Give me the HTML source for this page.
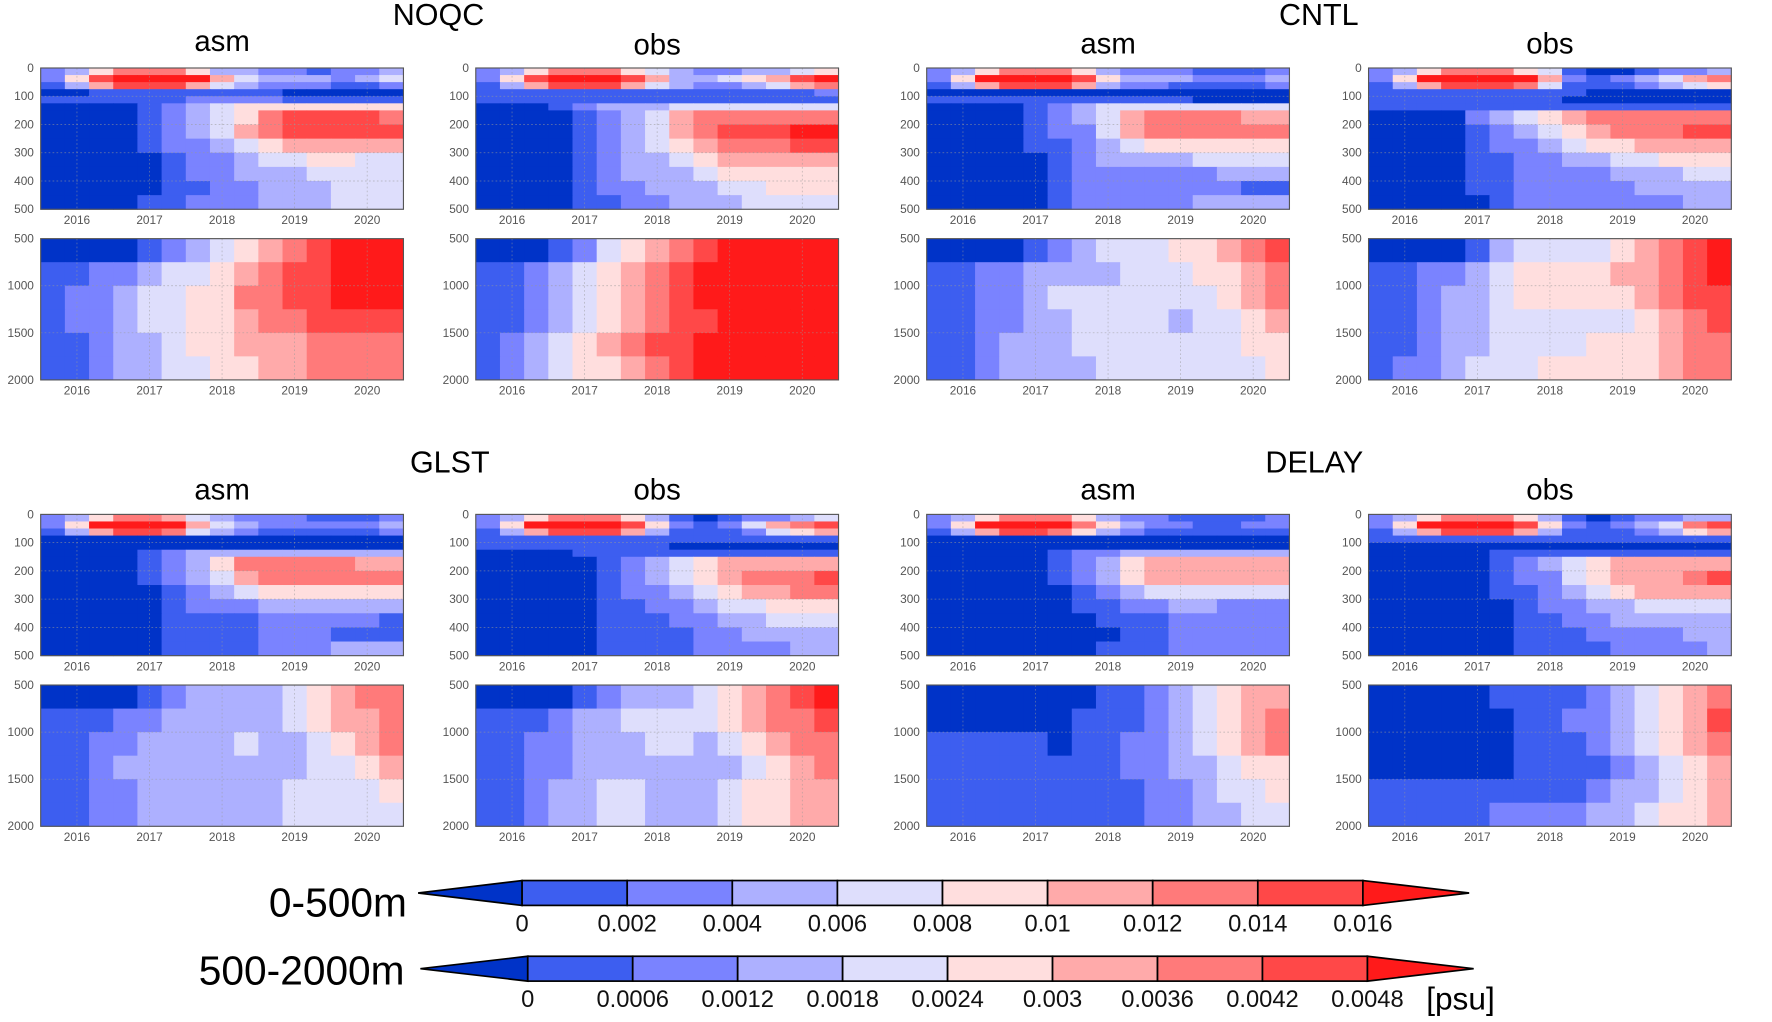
<!DOCTYPE html>
<html><head><meta charset="utf-8">
<style>
html,body{margin:0;padding:0;background:#fff;}
svg{display:block;font-family:"Liberation Sans","DejaVu Sans",sans-serif;}
</style></head>
<body>
<svg id="fig" width="1772" height="1022" viewBox="0 0 1568 904" xmlns="http://www.w3.org/2000/svg">
<rect width="1568" height="904" fill="#fff"/>
</svg>
<script>
// ---- data ----
const levelColors = ["#0033c8","#3d5ef0","#7a83ff","#adb0ff","#dedefc","#ffdede","#ffaaaa","#ff7a7a","#ff4848","#ff1a1a"];
const yearTicks = [2016,2017,2018,2019,2020];
const timeStart = 2015.5, timeEnd = 2020.5;
const topDepthEdges = [0,25,50,75,100,125,150,200,250,300,350,400,450,500];
const botDepthEdges = [500,750,1000,1250,1500,1750,2000];
const topDepthTicks = [0,100,200,300,400,500];
const botDepthTicks = [500,1000,1500,2000];
const cb1Labels = ["0","0.002","0.004","0.006","0.008","0.01","0.012","0.014","0.016"];
const cb2Labels = ["0","0.0006","0.0012","0.0018","0.0024","0.003","0.0036","0.0042","0.0048"];

const noqcAsmTop = [
[2,3,5,7,7,7,5,3,3,2,2,1,2,2,3],
[2,5,8,9,9,9,9,6,4,3,3,3,2,3,4],
[1,3,6,8,8,8,6,4,3,2,2,2,1,1,2],
[0,0,1,1,1,1,1,1,1,1,0,0,0,0,0],
[1,1,1,1,1,1,2,2,2,2,1,1,1,1,1],
[0,0,0,0,1,2,3,4,5,5,5,5,5,5,5],
[0,0,0,0,1,2,3,4,5,7,8,8,8,8,7],
[0,0,0,0,1,2,3,4,6,7,8,8,8,8,8],
[0,0,0,0,1,2,2,3,4,5,6,6,6,6,6],
[0,0,0,0,0,1,2,2,3,4,4,5,5,4,4],
[0,0,0,0,0,1,2,2,3,3,3,4,4,4,4],
[0,0,0,0,0,1,1,2,2,3,3,3,4,4,4],
[0,0,0,0,1,1,2,2,2,3,3,3,4,4,4]];
const noqcAsmBot = [
[0,0,0,0,1,2,3,4,5,6,7,8,9,9,9],
[1,1,2,2,3,4,4,5,6,7,8,8,9,9,9],
[1,2,2,3,4,4,5,5,7,7,8,8,9,9,9],
[1,2,2,3,4,4,5,5,6,7,7,8,8,8,8],
[1,1,2,3,3,4,5,5,6,6,6,7,7,7,7],
[1,1,2,3,3,4,4,5,5,6,6,7,7,7,7]];
const noqcObsTop = [
[2,3,5,7,7,7,5,4,3,2,2,3,3,4,5],
[2,5,8,9,9,9,8,6,3,3,4,5,6,8,9],
[1,3,6,8,8,8,6,4,3,2,2,3,4,6,7],
[1,1,1,1,1,1,1,1,1,1,1,1,1,1,2],
[1,1,1,1,1,1,1,1,1,1,1,1,1,1,1],
[0,0,0,1,2,3,3,3,4,4,4,4,4,4,4],
[0,0,0,0,1,2,3,4,6,7,7,7,7,7,7],
[0,0,0,0,1,2,3,4,6,7,8,8,8,9,9],
[0,0,0,0,1,2,3,4,5,6,7,7,7,8,8],
[0,0,0,0,1,2,3,3,4,5,6,6,6,6,6],
[0,0,0,0,1,2,3,3,3,4,5,5,5,5,5],
[0,0,0,0,1,2,2,3,3,3,4,4,5,5,5],
[0,0,0,0,1,1,2,2,3,3,3,4,4,4,4]];
const noqcObsBot = [
[0,0,0,1,2,4,5,6,7,8,9,9,9,9,9],
[1,1,2,3,4,5,6,7,8,9,9,9,9,9,9],
[1,1,2,3,4,5,6,7,8,9,9,9,9,9,9],
[1,1,2,3,4,5,6,7,8,8,9,9,9,9,9],
[1,2,3,4,5,6,7,8,8,9,9,9,9,9,9],
[1,2,3,4,5,5,6,7,8,9,9,9,9,9,9]];
const cntlAsmTop = [
[2,3,5,7,7,7,5,3,2,2,2,1,1,1,2],
[2,5,9,9,9,9,8,5,3,3,3,2,2,2,3],
[1,3,6,8,8,8,6,3,2,2,1,1,1,1,2],
[0,0,0,0,0,0,0,0,0,0,0,0,0,0,0],
[1,1,1,1,1,1,1,1,1,1,1,0,0,0,0],
[0,0,0,0,1,2,3,4,4,4,4,4,4,4,4],
[0,0,0,0,1,2,3,4,6,7,7,7,7,6,6],
[0,0,0,0,1,2,2,4,6,7,7,7,7,7,7],
[0,0,0,0,1,1,2,3,4,5,5,5,5,5,5],
[0,0,0,0,0,1,2,3,3,3,3,4,4,4,4],
[0,0,0,0,0,1,2,2,2,2,2,2,3,3,3],
[0,0,0,0,0,1,2,2,2,2,2,2,2,1,1],
[0,0,0,0,0,1,2,2,2,2,2,3,3,3,3]];
const cntlAsmBot = [
[0,0,0,0,1,2,3,4,4,4,5,5,6,7,8],
[1,1,2,2,3,3,3,3,4,4,4,5,5,6,7],
[1,1,2,2,3,4,4,4,4,4,4,4,5,6,7],
[1,1,2,2,3,3,4,4,4,4,3,4,4,5,6],
[1,1,2,3,3,3,4,4,4,4,4,4,4,5,5],
[1,1,2,3,3,3,3,4,4,4,4,4,4,4,5]];
const cntlObsTop = [
[2,3,5,7,7,7,5,4,1,0,0,1,2,2,3],
[2,5,9,9,9,9,9,6,2,1,2,3,4,6,7],
[1,3,6,8,8,8,7,4,1,1,1,2,3,4,5],
[1,1,1,1,1,1,1,1,1,0,0,0,0,0,0],
[1,1,1,1,1,1,1,1,0,0,0,0,0,0,0],
[1,1,1,1,1,1,1,1,1,1,1,1,1,1,1],
[0,0,0,0,2,3,4,5,6,7,7,7,7,7,7],
[0,0,0,0,1,2,3,4,5,6,7,7,7,8,8],
[0,0,0,0,1,2,2,3,4,5,5,6,6,6,6],
[0,0,0,0,1,1,2,2,3,3,4,4,5,5,5],
[0,0,0,0,1,1,2,2,2,2,3,3,3,4,4],
[0,0,0,0,1,1,2,2,2,2,2,3,3,3,3],
[0,0,0,0,0,1,2,2,2,2,2,2,2,3,3]];
const cntlObsBot = [
[0,0,0,0,1,3,4,4,4,4,5,6,7,8,9],
[1,1,2,2,3,4,5,5,5,5,6,6,7,8,9],
[1,1,2,3,3,4,5,5,5,5,5,6,7,8,8],
[1,1,2,3,3,4,4,4,4,4,4,5,6,7,8],
[1,1,2,3,3,4,4,4,4,5,5,5,6,7,7],
[1,2,2,3,4,4,4,5,5,5,5,5,6,7,7]];
const glstAsmTop = [
[2,3,5,7,7,6,4,3,2,2,2,1,1,1,2],
[2,5,9,9,9,9,6,4,3,2,2,2,2,2,3],
[1,3,6,8,8,7,4,3,2,1,1,1,1,1,2],
[0,0,0,0,0,0,0,0,0,0,0,0,0,0,0],
[0,0,0,0,0,0,0,0,0,0,0,0,0,0,0],
[0,0,0,0,1,2,3,3,3,3,3,3,3,3,3],
[0,0,0,0,1,2,3,5,7,7,7,7,7,6,6],
[0,0,0,0,1,2,3,4,6,7,7,7,7,7,7],
[0,0,0,0,0,1,2,3,4,5,5,5,5,5,5],
[0,0,0,0,0,1,2,2,2,3,3,3,3,3,3],
[0,0,0,0,0,1,1,1,1,2,2,2,2,2,1],
[0,0,0,0,0,1,1,1,1,2,2,2,1,1,1],
[0,0,0,0,0,1,1,1,1,2,2,2,3,3,3]];
const glstAsmBot = [
[0,0,0,0,1,2,3,3,3,3,4,5,6,7,7],
[1,1,1,2,2,3,3,3,3,3,4,5,6,6,7],
[1,1,2,2,3,3,3,3,4,3,3,4,5,6,7],
[1,1,2,3,3,3,3,3,3,3,3,4,4,5,6],
[1,1,2,2,3,3,3,3,3,3,4,4,4,4,5],
[1,1,2,2,3,3,3,3,3,3,4,4,4,4,4]];
const glstObsTop = [
[2,3,5,7,7,7,5,3,1,0,1,2,2,3,4],
[2,5,9,9,9,9,8,5,2,1,2,4,6,7,8],
[1,3,6,8,8,8,6,3,1,1,1,2,4,5,6],
[1,1,1,1,1,1,1,1,1,1,1,1,1,1,1],
[1,1,1,1,1,1,1,1,0,0,0,0,0,0,0],
[0,0,0,0,1,1,1,1,1,1,1,1,1,1,1],
[0,0,0,0,0,1,2,3,4,5,6,6,6,6,6],
[0,0,0,0,0,1,2,3,4,5,6,7,7,7,8],
[0,0,0,0,0,1,2,2,3,4,5,6,6,7,7],
[0,0,0,0,0,1,1,2,2,3,4,4,5,5,5],
[0,0,0,0,0,1,1,1,2,2,3,3,4,4,4],
[0,0,0,0,0,1,1,1,1,2,2,3,3,3,3],
[0,0,0,0,0,1,1,1,1,2,2,2,2,3,3]];
const glstObsBot = [
[0,0,0,0,1,2,3,3,3,4,5,6,7,8,9],
[1,1,1,2,3,3,4,4,4,4,5,6,7,7,8],
[1,1,2,2,3,3,3,4,4,3,4,5,6,7,7],
[1,1,2,2,3,3,3,3,3,3,3,4,5,6,7],
[1,1,2,3,3,4,4,3,3,3,4,5,5,6,6],
[1,1,2,3,3,4,4,3,3,3,4,5,5,6,6]];
const delayAsmTop = [
[2,3,5,7,7,7,5,3,2,2,1,1,1,1,2],
[2,5,9,9,9,9,7,5,3,2,2,1,1,2,2],
[1,3,6,8,8,7,5,3,2,1,1,1,1,1,1],
[0,0,0,0,0,0,0,0,0,0,0,0,0,0,0],
[0,0,0,0,0,0,0,0,0,0,0,0,0,0,0],
[0,0,0,0,0,1,2,2,3,3,3,3,3,3,3],
[0,0,0,0,0,1,2,3,5,6,6,6,6,6,6],
[0,0,0,0,0,1,2,3,5,6,6,6,6,6,6],
[0,0,0,0,0,0,1,2,3,4,4,4,4,4,4],
[0,0,0,0,0,0,1,1,2,2,3,3,2,2,2],
[0,0,0,0,0,0,0,1,1,1,2,2,2,2,2],
[0,0,0,0,0,0,0,0,1,1,2,2,2,2,2],
[0,0,0,0,0,0,0,1,1,1,2,2,2,2,2]];
const delayAsmBot = [
[0,0,0,0,0,0,0,1,1,2,3,4,5,6,6],
[0,0,0,0,0,0,1,1,1,2,3,4,5,6,7],
[1,1,1,1,1,0,1,1,2,2,3,4,5,6,7],
[1,1,1,1,1,1,1,1,2,2,3,3,4,5,5],
[1,1,1,1,1,1,1,1,1,2,2,3,4,4,5],
[1,1,1,1,1,1,1,1,1,2,2,3,3,4,4]];
const delayObsTop = [
[2,3,5,7,7,7,5,3,1,0,1,2,2,3,3],
[2,5,9,9,9,9,8,5,2,1,2,3,4,7,8],
[1,3,6,8,8,8,6,3,1,1,1,2,3,5,6],
[1,1,1,1,1,1,1,1,1,1,1,1,1,1,1],
[0,0,0,0,0,0,0,0,0,0,0,0,0,0,0],
[0,0,0,0,0,1,1,1,1,1,1,1,1,1,1],
[0,0,0,0,0,1,2,3,4,5,6,6,6,6,6],
[0,0,0,0,0,1,2,2,4,5,6,6,6,7,8],
[0,0,0,0,0,1,1,2,3,4,5,6,6,6,6],
[0,0,0,0,0,0,1,2,2,3,3,4,4,4,4],
[0,0,0,0,0,0,1,1,2,2,3,3,3,3,3],
[0,0,0,0,0,0,1,1,1,2,2,2,2,3,3],
[0,0,0,0,0,0,1,1,1,1,2,2,2,2,3]];
const delayObsBot = [
[0,0,0,0,0,1,1,1,1,2,3,4,5,6,7],
[0,0,0,0,0,0,1,1,2,2,3,4,5,6,8],
[0,0,0,0,0,0,1,1,1,2,3,4,5,6,7],
[0,0,0,0,0,0,1,1,1,1,2,3,4,5,6],
[1,1,1,1,1,1,1,1,1,2,3,3,4,5,6],
[1,1,1,1,1,2,2,2,2,3,3,4,5,5,6]];

// ---- layout ----
const NS = "http://www.w3.org/2000/svg";
const svg = document.getElementById('fig');
function mk(tag, attrs, parent){
  const e = document.createElementNS(NS, tag);
  for (const k in attrs) e.setAttribute(k, attrs[k]);
  (parent||svg).appendChild(e);
  return e;
}
const PW = 321, PH = 125;
const panelDefs = [
  {name:'noqc-asm', x:36, ty:60, by:211, top:noqcAsmTop, bot:noqcAsmBot, title:'asm', tBase:45},
  {name:'noqc-obs', x:421, ty:60, by:211, top:noqcObsTop, bot:noqcObsBot, title:'obs', tBase:48},
  {name:'cntl-asm', x:820, ty:60, by:211, top:cntlAsmTop, bot:cntlAsmBot, title:'asm', tBase:47},
  {name:'cntl-obs', x:1211, ty:60, by:211, top:cntlObsTop, bot:cntlObsBot, title:'obs', tBase:47},
  {name:'glst-asm', x:36, ty:455, by:606, top:glstAsmTop, bot:glstAsmBot, title:'asm', tBase:442},
  {name:'glst-obs', x:421, ty:455, by:606, top:glstObsTop, bot:glstObsBot, title:'obs', tBase:442},
  {name:'delay-asm', x:820, ty:455, by:606, top:delayAsmTop, bot:delayAsmBot, title:'asm', tBase:442},
  {name:'delay-obs', x:1211, ty:455, by:606, top:delayObsTop, bot:delayObsBot, title:'obs', tBase:442}
];
function drawPanel(px, py, grid, edges, ticks, name){
  const g = mk('g', {});
  
  
  const xs = t => px + (t - timeStart) / (timeEnd - timeStart) * PW;
  const d0 = edges[0], d1 = edges[edges.length-1];
  const ys = d => py + (d - d0) / (d1 - d0) * PH;
  const nc = grid[0].length, dt = (timeEnd - timeStart) / nc;
  for (let r = 0; r < grid.length; r++){
    for (let c = 0; c < nc; c++){
      const x0 = xs(timeStart + c*dt), x1 = xs(timeStart + (c+1)*dt);
      const y0 = ys(edges[r]), y1 = ys(edges[r+1]);
      const cell = mk('rect', {x:x0, y:y0, width:x1-x0+0.4, height:y1-y0+0.4, fill:levelColors[grid[r][c]]}, g);
      
      
    }
  }
  yearTicks.forEach(yr => {
    mk('line', {x1:xs(yr), x2:xs(yr), y1:py, y2:py+PH, stroke:'#999', 'stroke-width':0.6, 'stroke-dasharray':'1.5,2', opacity:0.7}, g);
    const t = mk('text', {x:xs(yr), y:py+PH+13, 'font-size':10.5, fill:'#555', 'text-anchor':'middle'}, g);
    t.textContent = yr;
    
    
  });
  ticks.forEach(d => {
    if (d !== d0 && d !== d1) mk('line', {x1:px, x2:px+PW, y1:ys(d), y2:ys(d), stroke:'#999', 'stroke-width':0.6, 'stroke-dasharray':'1.5,2', opacity:0.7}, g);
    const t = mk('text', {x:px-6, y:ys(d)+3.5, 'font-size':10.5, fill:'#555', 'text-anchor':'end'}, g);
    t.textContent = d;
    
    
  });
  mk('rect', {x:px, y:py, width:PW, height:PH, fill:'none', stroke:'#555', 'stroke-width':1}, g);
}
panelDefs.forEach(p => {
  drawPanel(p.x, p.ty, p.top, topDepthEdges, topDepthTicks, p.name + '-0-500m-panel');
  drawPanel(p.x, p.by, p.bot, botDepthEdges, botDepthTicks, p.name + '-500-2000m-panel');
  const t = mk('text', {x:p.x + PW/2, y:p.tBase, 'font-size':26, fill:'#000', 'text-anchor':'middle'});
  t.textContent = p.title;
  
  
});
const groupTitles = [['NOQC',388,22],['CNTL',1167,22],['GLST',398,418],['DELAY',1163,418]];
groupTitles.forEach(gt => {
  const t = mk('text', {x:gt[1], y:gt[2], 'font-size':27, fill:'#000', 'text-anchor':'middle'});
  t.textContent = gt[0];
  
  
});
// ---- colorbars ----
function colorbar(tipL, x0, x1, tipR, y0, y1, labels, labelY, name){
  const g = mk('g', {});
  
  
  const yc = (y0+y1)/2, n = labels.length - 1, w = (x1-x0)/n;
  mk('polygon', {points:`${tipL},${yc} ${x0},${y0} ${x0},${y1}`, fill:levelColors[0], stroke:'#000', 'stroke-width':1.5}, g);
  for (let i = 0; i < n; i++){
    const b = mk('rect', {x:x0+i*w, y:y0, width:w, height:y1-y0, fill:levelColors[i+1], stroke:'#000', 'stroke-width':1.5}, g);
    
    
  }
  mk('polygon', {points:`${x1},${y0} ${tipR},${yc} ${x1},${y1}`, fill:levelColors[9], stroke:'#000', 'stroke-width':1.5}, g);
  labels.forEach((l,i) => {
    const t = mk('text', {x:x0+i*w, y:labelY, 'font-size':21, fill:'#111', 'text-anchor':'middle'}, g);
    t.textContent = l;
    
    
  });
}
colorbar(370, 462, 1206, 1300, 779, 801, cb1Labels, 824, 'colorbar-0-500m');
colorbar(372, 467, 1210, 1304, 846, 868, cb2Labels, 891, 'colorbar-500-2000m');
[['0-500m',360,811],['500-2000m',358,871]].forEach(a => {
  const t = mk('text', {x:a[1], y:a[2], 'font-size':36, fill:'#000', 'text-anchor':'end'});
  t.textContent = a[0];
  
  
});
const u = mk('text', {x:1262, y:893, 'font-size':28, fill:'#000'});
u.textContent = '[psu]';


</script>
</body></html>
